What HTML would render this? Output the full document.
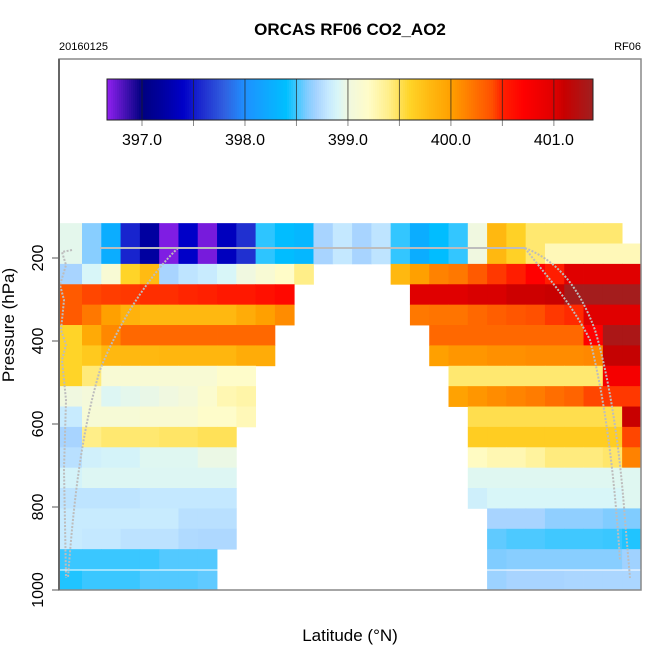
<!DOCTYPE html>
<html><head><meta charset="utf-8"><style>
html,body{margin:0;padding:0;background:#fff;}
svg{display:block;font-family:"Liberation Sans",Arial,sans-serif;}
</style></head><body>
<svg id="chart" width="650" height="650" viewBox="0 0 650 650">
<text x="350" y="35" text-anchor="middle" font-size="17" font-weight="bold">ORCAS RF06 CO2_AO2</text>
<text x="59" y="50" font-size="11">20160125</text>
<text x="641" y="50" font-size="11" text-anchor="end">RF06</text>
<g id="cells"></g>
<g id="tracks"></g>
<g id="cbar"></g>
<rect x="59" y="59" width="582" height="531" fill="none" stroke="#888" stroke-width="1.5"/>
<g id="yaxis"></g>
<text transform="translate(14,325) rotate(-90)" text-anchor="middle" font-size="17">Pressure (hPa)</text>
<text x="350" y="641" text-anchor="middle" font-size="17">Latitude (°N)</text>
</svg>
<script>
const yTicks=[200,400,600,800,1000];
const cbTicks=[397.0,398.0,399.0,400.0,401.0];
const N=null;
const row0=[398.95,398.62,398.25,397.55,397.2,396.7,397.4,396.72,397.35,397.6,398.47,398.38,398.33,398.7,398.8,398.7,398.78,398.48,398.25,398.38,398.48,399.0,399.8,399.62,399.45,399.45,399.45,399.45,399.45,N];
const row1=[398.95,398.62,398.25,397.55,397.2,396.7,397.4,396.72,397.35,397.6,398.47,398.38,398.33,398.7,398.8,398.7,398.78,398.48,398.25,398.38,398.48,399.0,399.8,399.62,399.45,399.25,399.25,399.25,399.25,399.25];
const row2=[398.7,398.9,399.1,399.6,399.78,398.7,398.78,398.82,398.9,399.0,399.1,399.2,399.4,N,N,N,N,399.8,400.0,400.15,400.2,400.35,400.45,400.52,400.7,400.52,401.0,401.0,401.0,401.0];
const row3=[400.35,400.42,400.44,400.45,400.47,400.47,400.49,400.5,400.55,400.55,400.6,400.65,N,N,N,N,N,N,401.0,401.0,401.0,401.03,401.03,401.08,401.08,401.1,401.35,401.35,401.35,401.35];
const row4=[400.35,400.2,400.0,399.85,399.8,399.8,399.8,399.8,399.8,399.9,400.0,400.1,N,N,N,N,N,N,400.2,400.22,400.22,400.28,400.33,400.37,400.4,400.45,400.48,401.0,401.0,401.0];
const row5=[399.6,399.92,400.12,400.28,400.28,400.28,400.28,400.28,400.28,400.28,400.28,N,N,N,N,N,N,N,N,400.28,400.28,400.28,400.28,400.28,400.28,400.28,400.28,400.7,401.3,401.3];
const row6=[399.6,399.68,399.8,399.8,399.8,399.82,399.82,399.82,399.82,399.9,399.9,N,N,N,N,N,N,N,N,400.0,400.05,400.05,400.08,400.08,400.1,400.1,400.1,400.12,401.12,401.12];
const row7=[399.6,399.43,399.1,399.1,399.1,399.1,399.1,399.1,399.18,399.18,N,N,N,N,N,N,N,N,N,N,399.45,399.45,399.45,399.45,399.45,399.45,399.45,399.45,400.8,400.8];
const row8=[399.0,399.05,398.92,398.95,398.97,399.0,399.05,399.15,399.27,399.3,N,N,N,N,N,N,N,N,N,N,399.98,400.05,400.1,400.14,400.18,400.25,400.3,400.42,400.45,400.45];
const row9=[398.82,399.08,399.08,399.08,399.12,399.12,399.12,399.18,399.18,399.25,N,N,N,N,N,N,N,N,N,N,N,399.52,399.52,399.52,399.52,399.52,399.52,399.52,399.52,401.1];
const row10=[398.7,399.4,399.45,399.45,399.45,399.47,399.47,399.5,399.5,N,N,N,N,N,N,N,N,N,N,N,N,399.65,399.65,399.65,399.65,399.65,399.65,399.65,399.65,400.42];
const row11=[398.76,398.86,398.88,398.88,398.93,398.93,398.93,398.98,398.98,N,N,N,N,N,N,N,N,N,N,N,N,399.22,399.27,399.27,399.33,399.42,399.42,399.42,399.46,400.15];
const row12=[398.88,398.92,398.92,398.92,398.92,398.92,398.92,398.92,398.92,N,N,N,N,N,N,N,N,N,N,N,N,398.93,398.93,398.93,398.93,398.93,398.93,398.93,398.93,398.93];
const row13=[398.78,398.78,398.78,398.78,398.8,398.8,398.8,398.8,398.8,N,N,N,N,N,N,N,N,N,N,N,N,398.85,398.9,398.9,398.9,398.9,398.9,398.9,398.9,398.93];
const row14=[398.82,398.82,398.82,398.82,398.82,398.82,398.76,398.76,398.76,N,N,N,N,N,N,N,N,N,N,N,N,N,398.7,398.7,398.7,398.64,398.64,398.64,398.6,398.6];
const row15=[398.82,398.8,398.8,398.77,398.77,398.77,398.73,398.72,398.72,N,N,N,N,N,N,N,N,N,N,N,N,N,398.55,398.52,398.52,398.5,398.5,398.5,398.49,398.45];
const row16=[398.49,398.49,398.49,398.49,398.49,398.53,398.53,398.53,N,N,N,N,N,N,N,N,N,N,N,N,N,N,398.6,398.62,398.62,398.62,398.62,398.62,398.62,398.68];
const row17=[398.45,398.49,398.49,398.49,398.53,398.53,398.53,398.55,N,N,N,N,N,N,N,N,N,N,N,N,N,N,398.67,398.7,398.7,398.7,398.71,398.71,398.71,398.71];
const grid=[row0,row1,row2,row3,row4,row5,row6,row7,row8,row9,row10,row11,row12,row13,row14,row15,row16,row17];
const pTop=116, dP=49.1;
const cbMin=396.66, cbMax=401.38;

const NS="http://www.w3.org/2000/svg";
function yS(p){return 590-(1000-p)*0.415;}
function xCol(k){return 82+19.29*(k-1);}
function cbX(v){return 107+(v-cbMin)/(cbMax-cbMin)*486;}
const stops=[[396.66,"#9020f0"],[396.85,"#4010b0"],[397.0,"#000080"],[397.2,"#0000a0"],[397.4,"#0000c8"],[397.6,"#2030d0"],[397.8,"#3060e0"],[398.0,"#1e90ff"],[398.4,"#00bfff"],[398.5,"#40c8ff"],[398.6,"#80ccff"],[398.7,"#a8d4ff"],[398.8,"#c4e8ff"],[398.9,"#d8f6f8"],[399.0,"#f0f8e0"],[399.2,"#fffcc8"],[399.4,"#ffee88"],[399.6,"#ffd428"],[399.8,"#ffb810"],[400.0,"#ffa000"],[400.2,"#ff7800"],[400.4,"#ff5000"],[400.5,"#ff2000"],[400.7,"#ff0000"],[401.0,"#e00000"],[401.1,"#c80000"],[401.38,"#a02020"]];
function hex(c){return [1,3,5].map(i=>parseInt(c.substr(i,2),16));}
function color(v){
  if(v<=stops[0][0])return stops[0][1];
  for(let i=1;i<stops.length;i++){
    if(v<=stops[i][0]){
      const a=stops[i-1],b=stops[i],t=(v-a[0])/(b[0]-a[0]);
      const ca=hex(a[1]),cb=hex(b[1]);
      return "rgb("+ca.map((x,j)=>Math.round(x+(cb[j]-x)*t)).join(",")+")";
    }
  }
  return stops[stops.length-1][1];
}
const cells=document.getElementById("cells");
grid.forEach((row,i)=>{
  const y0=yS(pTop+i*dP), y1=yS(pTop+(i+1)*dP);
  row.forEach((v,k)=>{
    if(v===null)return;
    const x0=k===0?59:xCol(k), x1=Math.min(641,xCol(k+1));
    const r=document.createElementNS(NS,"rect");
    r.setAttribute("x",x0.toFixed(2));r.setAttribute("y",y0.toFixed(2));
    r.setAttribute("width",(x1-x0+0.4).toFixed(2));r.setAttribute("height",(y1-y0+0.4).toFixed(2));
    r.setAttribute("fill",color(v));
    
    
    cells.appendChild(r);
  });
});
const wl=document.createElementNS(NS,"line");
wl.setAttribute("x1",59);wl.setAttribute("x2",641);wl.setAttribute("y1",570);wl.setAttribute("y2",570);
wl.setAttribute("stroke","#fff");wl.setAttribute("stroke-width","1");


cells.appendChild(wl);
const tracks=document.getElementById("tracks");
const paths=[
 ["M100,248 L525,248","none"],
 ["M178,248 C150,275 120,320 100,370 C85,420 75,480 68,578","2,1.5"],
 ["M72,250 L62,252 L66,265 L60,285 L64,300 L61,330 L66,345 L62,360 L66,400 L64,470 L66,578","2,1.5"],
 ["M525,248 C560,262 580,290 595,330 C610,380 620,450 625,520 L630,578","2,1.5"],
 ["M525,248 C545,275 570,300 590,340 C605,400 614,470 620,560","2,1.5"]
];
paths.forEach(p=>{
  const e=document.createElementNS(NS,"path");
  e.setAttribute("d",p[0]);e.setAttribute("fill","none");
  e.setAttribute("stroke","#bdbdbd");e.setAttribute("stroke-width","2");
  if(p[1]!=="none")e.setAttribute("stroke-dasharray",p[1]);
  
  
  tracks.appendChild(e);
});
const cbar=document.getElementById("cbar");
for(let i=0;i<243;i++){
  const v0=cbMin+(cbMax-cbMin)*i/243, v1=cbMin+(cbMax-cbMin)*(i+1)/243;
  const r=document.createElementNS(NS,"rect");
  r.setAttribute("x",cbX(v0).toFixed(2));r.setAttribute("y",79);
  r.setAttribute("width",(cbX(v1)-cbX(v0)+0.3).toFixed(2));r.setAttribute("height",41);
  r.setAttribute("fill",color((v0+v1)/2));
  
  
  cbar.appendChild(r);
}
for(let v=397.0;v<=401.01;v+=0.5){
  const l=document.createElementNS(NS,"line");
  const x=cbX(v);
  l.setAttribute("x1",x);l.setAttribute("x2",x);l.setAttribute("y1",79);l.setAttribute("y2",120);
  l.setAttribute("stroke","#222");l.setAttribute("stroke-width","1");l.setAttribute("opacity","0.7");
  
  
  cbar.appendChild(l);
  const t=document.createElementNS(NS,"line");
  t.setAttribute("x1",x);t.setAttribute("x2",x);t.setAttribute("y1",120);t.setAttribute("y2",126);
  t.setAttribute("stroke","#888");
  
  
  cbar.appendChild(t);
}
const cbf=document.createElementNS(NS,"rect");
cbf.setAttribute("x",107);cbf.setAttribute("y",79);cbf.setAttribute("width",486);cbf.setAttribute("height",41);
cbf.setAttribute("fill","none");cbf.setAttribute("stroke","#222");


cbar.appendChild(cbf);
cbTicks.forEach(v=>{
  const t=document.createElementNS(NS,"text");
  t.setAttribute("x",cbX(v));t.setAttribute("y",145);t.setAttribute("text-anchor","middle");t.setAttribute("font-size","16");
  t.textContent=v.toFixed(1);
  
  
  cbar.appendChild(t);
});
const ya=document.getElementById("yaxis");
yTicks.forEach(p=>{
  const y=yS(p);
  const l=document.createElementNS(NS,"line");
  l.setAttribute("x1",52);l.setAttribute("x2",59);l.setAttribute("y1",y);l.setAttribute("y2",y);
  l.setAttribute("stroke","#555");
  
  
  ya.appendChild(l);
  const t=document.createElementNS(NS,"text");
  t.setAttribute("transform","translate(43,"+y+") rotate(-90)");
  t.setAttribute("text-anchor","middle");t.setAttribute("font-size","16");
  t.textContent=p;
  
  
  ya.appendChild(t);
});
const ax=document.createElementNS(NS,"line");
ax.setAttribute("x1",59);ax.setAttribute("x2",59);ax.setAttribute("y1",59);ax.setAttribute("y2",590);
ax.setAttribute("stroke","#666");ax.setAttribute("stroke-width","2");


ya.appendChild(ax);
</script>
</body></html>
